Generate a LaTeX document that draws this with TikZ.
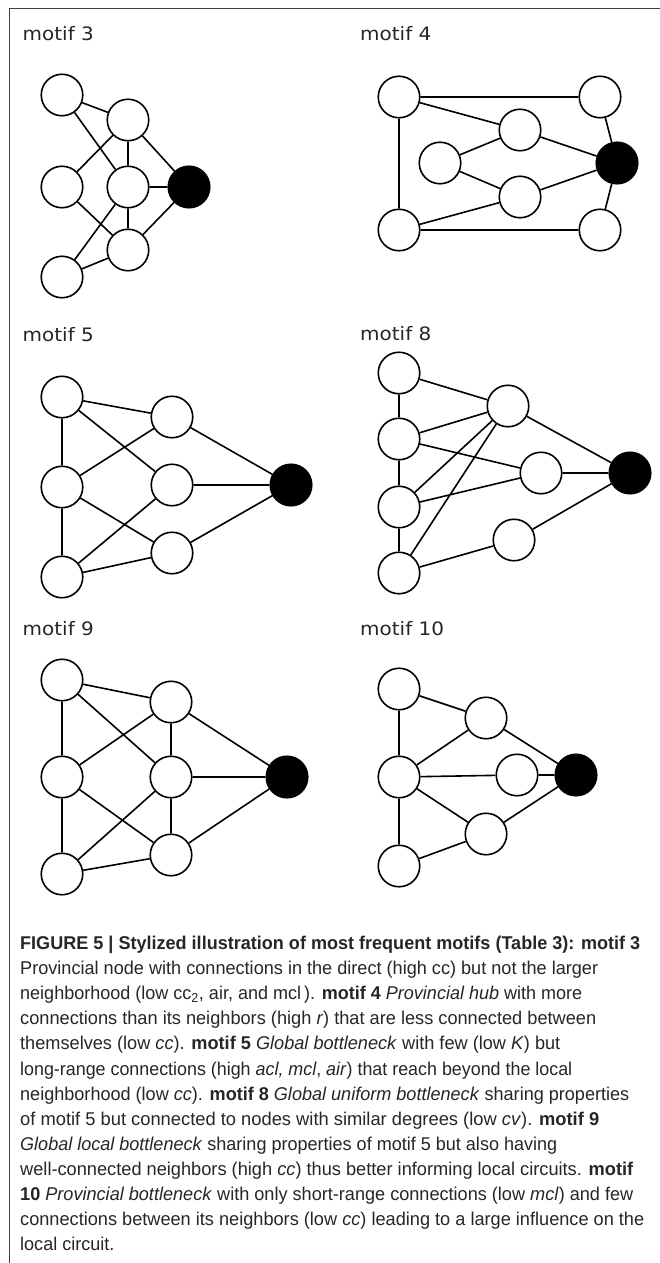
\documentclass[tikz,border=0pt]{standalone}
\usepackage{graphicx}
\usepackage{fontspec}
\setmainfont{Liberation Sans}
\newfontfamily\labelfont[FakeStretch=1.08]{DejaVu Sans}
\newfontfamily\capfont[FakeStretch=0.975]{Liberation Sans}
\newcommand\capline[2]{\resizebox{#1pt}{\height}{#2}}
\begin{document}
\begin{tikzpicture}[x=1pt,y=-1pt,
  nd/.style={circle,draw,line width=1.6pt,minimum size=41.5pt,inner sep=0pt,fill=white},
  hub/.style={nd,fill=black},
  ed/.style={line width=1.6pt},
  frameline/.style={line width=1pt,draw=black!75},
  lab/.style={anchor=base west,inner sep=0pt,font=\labelfont\fontsize{18.5}{22}\selectfont,text=black!85},
  captxt/.style={anchor=base west,inner sep=0pt,font=\capfont\fontsize{18.5}{22}\selectfont,text=black!85}]
\useasboundingbox (0,0) rectangle (660,1263);
\coordinate (fr1) at (660,9);
\coordinate (fr2) at (9,9);
\coordinate (fr3) at (9,1263);
\draw[frameline] (fr1) -- (fr2) -- (fr3);

% ---------- motif 3
\node[lab] (t3) at (22.5,40.7) {motif 3};
\node[nd] (a3) at (62,95) {};
\node[nd] (b3) at (128,120) {};
\node[nd] (c3) at (62,187) {};
\node[nd] (d3) at (128,187) {};
\node[hub] (e3) at (189,187) {};
\node[nd] (f3) at (128,250) {};
\node[nd] (g3) at (62,277) {};
\draw[ed] (a3)--(b3) (a3)--(d3) (b3)--(c3) (b3)--(d3) (b3)--(e3)
  (c3)--(f3) (d3)--(e3) (d3)--(f3) (d3)--(g3) (f3)--(g3) (f3)--(e3);

% ---------- motif 4
\node[lab] (t4) at (360,40.7) {motif 4};
\node[nd] (a4) at (399,97) {};
\node[nd] (b4) at (600,97) {};
\node[nd] (c4) at (520,130) {};
\node[nd] (d4) at (440,163) {};
\node[hub] (e4) at (617,163) {};
\node[nd] (f4) at (520,197) {};
\node[nd] (g4) at (399,230) {};
\node[nd] (h4) at (600,230) {};
\draw[ed] (a4)--(b4) (a4)--(c4) (a4)--(g4) (c4)--(d4) (c4)--(e4)
  (d4)--(f4) (f4)--(e4) (f4)--(g4) (g4)--(h4) (b4)--(e4) (h4)--(e4);

% ---------- motif 5
\node[lab] (t5) at (22.5,341.5) {motif 5};
\node[nd] (a5) at (62,397) {};
\node[nd] (b5) at (62,487) {};
\node[nd] (c5) at (62,577) {};
\node[nd] (d5) at (172,417) {};
\node[nd] (e5) at (172,485) {};
\node[nd] (f5) at (172,553) {};
\node[hub] (k5) at (291,485) {};
\draw[ed] (a5)--(b5) (b5)--(c5) (a5)--(d5) (a5)--(e5) (b5)--(d5) (b5)--(f5)
  (c5)--(e5) (c5)--(f5) (d5)--(k5) (e5)--(k5) (f5)--(k5);

% ---------- motif 8
\node[lab] (t8) at (360,340.5) {motif 8};
\node[nd] (a8) at (399,373) {};
\node[nd] (b8) at (399,439) {};
\node[nd] (c8) at (399,507) {};
\node[nd] (d8) at (399,573) {};
\node[nd] (e8) at (508,406) {};
\node[nd] (f8) at (541,473) {};
\node[nd] (g8) at (514,540) {};
\node[hub] (k8) at (630,473) {};
\draw[ed] (a8)--(b8) (b8)--(c8) (c8)--(d8) (a8)--(e8) (b8)--(e8) (b8)--(f8)
  (c8)--(e8) (c8)--(f8) (d8)--(e8) (d8)--(g8) (e8)--(k8) (f8)--(k8) (g8)--(k8);

% ---------- motif 9
\node[lab] (t9) at (22.5,635) {motif 9};
\node[nd] (a9) at (62,680) {};
\node[nd] (b9) at (62,777) {};
\node[nd] (c9) at (62,874) {};
\node[nd] (d9) at (171,702) {};
\node[nd] (e9) at (171,777) {};
\node[nd] (f9) at (171,855) {};
\node[hub] (k9) at (287,777) {};
\draw[ed] (a9)--(b9) (b9)--(c9) (a9)--(d9) (a9)--(e9) (b9)--(d9) (b9)--(f9)
  (c9)--(e9) (c9)--(f9) (d9)--(e9) (e9)--(f9) (d9)--(k9) (e9)--(k9) (f9)--(k9);

% ---------- motif 10
\node[lab] (t10) at (360,635) {motif 10};
\node[nd] (a10) at (399,689) {};
\node[nd] (b10) at (399,777) {};
\node[nd] (c10) at (399,866) {};
\node[nd] (d10) at (486,718) {};
\node[nd] (e10) at (517,775) {};
\node[nd] (f10) at (486,834) {};
\node[hub] (k10) at (576,775) {};
\draw[ed] (a10)--(b10) (b10)--(c10) (a10)--(d10) (b10)--(d10) (b10)--(e10)
  (b10)--(f10) (c10)--(f10) (d10)--(k10) (e10)--(k10) (f10)--(k10);

% ---------- caption
\node[captxt] (l1) at (20,949.5) {\capline{620}{\textbf{FIGURE 5 | Stylized illustration of most frequent motifs (Table 3): motif 3}}};
\node[captxt] (l2) at (20,974.6) {\capline{578}{Provincial node with connections in the direct (high cc) but not the larger}};
\node[captxt] (l3) at (20,999.7) {\capline{562}{neighborhood (low cc\textsubscript{2}, air, and mcl\,). \textbf{motif 4} \textit{Provincial hub} with more}};
\node[captxt] (l4) at (20,1024.8) {\capline{576}{connections than its neighbors (high \textit{r}) that are less connected between}};
\node[captxt] (l5) at (20,1049.9) {\capline{540}{themselves (low \textit{cc}). \textbf{motif 5} \textit{Global bottleneck} with few (low \textit{K}) but}};
\node[captxt] (l6) at (20,1075.0) {\capline{552}{long-range connections (high \textit{acl, mcl}, \textit{air}) that reach beyond the local}};
\node[captxt] (l7) at (20,1100.1) {\capline{609}{neighborhood (low \textit{cc}). \textbf{motif 8} \textit{Global uniform bottleneck} sharing properties}};
\node[captxt] (l8) at (20,1125.2) {\capline{579}{of motif 5 but connected to nodes with similar degrees (low \textit{cv}). \textbf{motif 9}}};
\node[captxt] (l9) at (20,1150.3) {\capline{537}{\textit{Global local bottleneck} sharing properties of motif 5 but also having}};
\node[captxt] (l10) at (20,1175.4) {\capline{613}{well-connected neighbors (high \textit{cc}) thus better informing local circuits. \textbf{motif}}};
\node[captxt] (l11) at (20,1200.5) {\capline{613}{\textbf{10} \textit{Provincial bottleneck} with only short-range connections (low \textit{mcl}) and few}};
\node[captxt] (l12) at (20,1225.6) {\capline{624}{connections between its neighbors (low \textit{cc}) leading to a large influence on the}};
\node[captxt] (l13) at (20,1250.7) {local circuit.};
\end{tikzpicture}
\end{document}
